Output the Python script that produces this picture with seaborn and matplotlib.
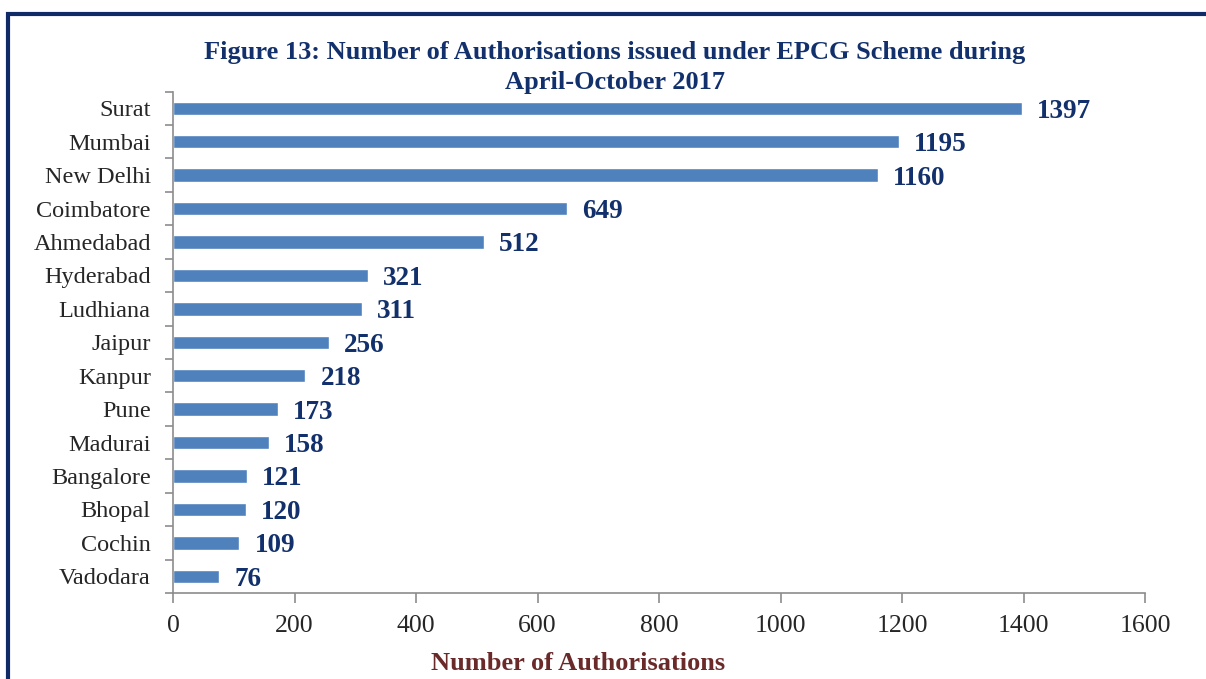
import numpy as np
import pandas as pd
import matplotlib.pyplot as plt
import seaborn as sns
from matplotlib.patches import Rectangle

# Data
cities = ['Surat', 'Mumbai', 'New Delhi', 'Coimbatore', 'Ahmedabad', 'Hyderabad',
          'Ludhiana', 'Jaipur', 'Kanpur', 'Pune', 'Madurai', 'Bangalore',
          'Bhopal', 'Cochin', 'Vadodara']
counts = [1397, 1195, 1160, 649, 512, 321, 311, 256, 218, 173, 158, 121, 120, 109, 76]
x_ticks = [0, 200, 400, 600, 800, 1000, 1200, 1400, 1600]

df = pd.DataFrame({'city': cities, 'count': counts})

sns.set_style('white', {'xtick.bottom': True, 'ytick.left': True})
plt.rcParams['font.family'] = ['Liberation Serif', 'DejaVu Serif']

fig = plt.figure(figsize=(12.06, 6.79), dpi=100)
ax = fig.add_axes([173 / 1206, 1 - 593 / 679, (1145 - 173) / 1206, (593 - 91.5) / 679])

sns.barplot(data=df, x='count', y='city', orient='h', color='#4F81BD',
            saturation=1, width=0.4, ax=ax)

# value labels
for i, v in enumerate(counts):
    ax.text(v + 25, i, str(v), va='center_baseline', ha='left', fontsize=19.5,
            fontweight='bold', color='#12306B')

ax.set_xlim(0, 1600)
ax.set_ylim(len(cities) - 0.5, -0.5)
ax.set_xticks(x_ticks)
ax.set_xticklabels([str(t) for t in x_ticks], fontsize=18.5)
ax.set_yticks(range(len(cities)))
ax.set_yticklabels(cities, fontsize=17.5)
ax.set_yticks(np.arange(-0.5, len(cities)), minor=True)
ax.tick_params(axis='y', which='major', length=0, pad=16)
ax.tick_params(axis='y', which='minor', left=True, length=6, width=1.2,
               color='#8C8C8C', direction='out')
ax.tick_params(axis='x', bottom=True, length=7, width=1.2, color='#8C8C8C',
               direction='out', pad=9)
ax.set_xlabel('')
ax.set_ylabel('')

for s in ['top', 'right']:
    ax.spines[s].set_visible(False)
for s in ['left', 'bottom']:
    ax.spines[s].set_color('#8C8C8C')
    ax.spines[s].set_linewidth(1.2)

fig.text(615 / 1206, 1 - 52 / 679, 'Figure 13: Number of Authorisations issued under EPCG Scheme during',
         ha='center', va='center', fontsize=19, fontweight='bold', color='#12306B')
fig.text(615 / 1206, 1 - 82 / 679, 'April-October 2017',
         ha='center', va='center', fontsize=19, fontweight='bold', color='#12306B')
fig.text(578 / 1206, 1 - 663 / 679, 'Number of Authorisations',
         ha='center', va='center', fontsize=19, fontweight='bold', color='#6B2A2A')

# outer frame
fig.patches.append(Rectangle((8 / 1206, -0.05), 1.2, 1 - 14 / 679 + 0.05,
                             transform=fig.transFigure, fill=False,
                             edgecolor='#0F2A66', linewidth=3))

fig.savefig('out.png', dpi=100)
